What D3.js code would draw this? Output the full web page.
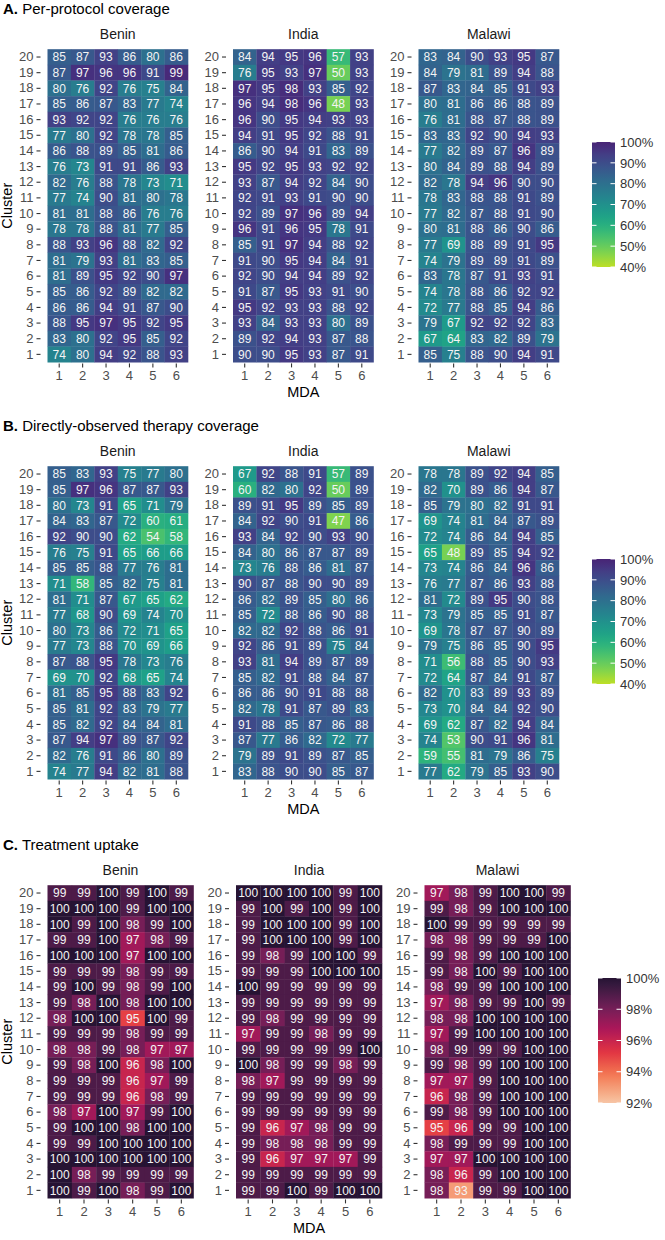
<!DOCTYPE html>
<html>
<head>
<meta charset="utf-8">
<script src="https://cdn.jsdelivr.net/npm/d3@7"></script>
<style>
  body { margin: 0; background: #fff; }
  text { font-family: "Liberation Sans", Arial, sans-serif; }
</style>
</head>
<body>
<script>
// categories
const countries = ["Benin", "India", "Malawi"];
const clusters = [20, 19, 18, 17, 16, 15, 14, 13, 12, 11, 10, 9, 8, 7, 6, 5, 4, 3, 2, 1];
const mdas = [1, 2, 3, 4, 5, 6];

// A. per-protocol coverage (rows = cluster 20 -> 1, cols = MDA 1..6)
const beninPP = [
  [85,87,93,86,80,86],[87,97,96,96,91,99],[80,76,92,76,75,84],[85,86,87,83,77,74],
  [93,92,92,76,76,76],[77,80,92,78,78,85],[86,88,89,85,81,86],[76,73,91,91,86,93],
  [82,76,88,78,73,71],[77,74,90,81,80,78],[81,81,88,86,76,76],[78,78,88,81,77,85],
  [88,93,96,88,82,92],[81,79,93,81,83,85],[81,89,95,92,90,97],[85,86,92,89,82,82],
  [86,86,94,91,87,90],[88,95,97,95,92,95],[83,80,92,95,85,92],[74,80,94,92,88,93]
];
const indiaPP = [
  [84,94,95,96,57,93],[76,95,93,97,50,93],[97,95,98,93,85,92],[96,94,98,96,48,93],
  [96,90,95,94,93,93],[94,91,95,92,88,91],[86,90,94,91,83,89],[95,92,95,93,92,92],
  [93,87,94,92,84,90],[92,91,93,91,90,90],[92,89,97,96,89,94],[96,91,96,95,78,91],
  [85,91,97,94,88,92],[91,90,95,94,84,91],[92,90,94,94,89,92],[91,87,95,93,91,90],
  [95,92,93,93,88,92],[93,84,93,93,80,89],[89,92,94,93,87,88],[90,90,95,93,87,91]
];
const malawiPP = [
  [83,84,90,93,95,87],[84,79,81,89,94,88],[87,83,84,85,91,93],[80,81,86,86,88,89],
  [76,81,88,87,88,89],[83,83,92,90,94,93],[77,82,89,87,96,89],[80,84,89,88,94,89],
  [82,78,94,96,90,90],[78,83,88,88,91,89],[77,82,87,88,91,90],[80,81,88,86,90,86],
  [77,69,88,89,91,95],[74,79,89,89,91,89],[83,78,87,91,93,91],[74,78,88,86,92,92],
  [72,77,88,85,94,86],[79,67,92,92,92,83],[67,64,83,82,89,79],[85,75,88,90,94,91]
];

// B. directly-observed therapy coverage
const beninDOT = [
  [85,83,93,75,77,80],[85,97,96,87,87,93],[80,73,91,65,71,79],[84,83,87,72,60,61],
  [92,90,90,62,54,58],[76,75,91,65,66,66],[85,85,88,77,76,81],[71,58,85,82,75,81],
  [81,71,87,67,65,62],[77,68,90,69,74,70],[80,73,86,72,71,65],[77,73,88,70,69,66],
  [87,88,95,78,73,76],[69,70,92,68,65,74],[81,85,95,88,83,92],[85,81,92,83,79,77],
  [85,82,92,84,84,81],[87,94,97,89,87,92],[82,76,91,86,80,89],[74,77,94,82,81,88]
];
const indiaDOT = [
  [67,92,88,91,57,89],[60,82,80,92,50,89],[89,91,95,89,85,89],[84,92,90,91,47,86],
  [93,84,92,90,93,90],[84,80,86,87,87,89],[73,76,88,86,81,87],[90,87,88,90,90,89],
  [86,82,89,85,80,86],[85,72,88,86,90,88],[82,82,92,88,86,91],[92,86,91,89,75,84],
  [93,81,94,89,87,89],[85,82,91,88,84,87],[86,86,90,91,88,88],[82,78,91,87,89,83],
  [91,88,85,87,86,88],[87,77,86,82,72,77],[79,89,91,89,87,85],[83,88,90,90,85,87]
];
const malawiDOT = [
  [78,78,89,92,94,85],[82,70,89,86,94,87],[85,79,80,82,91,91],[69,74,81,84,87,89],
  [72,74,86,84,94,85],[65,48,89,85,94,92],[73,74,86,84,96,86],[76,77,87,86,93,88],
  [81,72,89,95,90,88],[73,79,85,85,91,87],[69,78,87,87,90,89],[79,75,86,85,90,95],
  [71,56,88,85,90,93],[72,64,87,84,91,87],[82,70,83,89,93,89],[73,70,84,84,92,90],
  [69,62,87,82,94,84],[74,53,90,91,96,81],[59,55,81,79,86,75],[77,62,79,85,93,90]
];

// C. treatment uptake
const beninTU = [
  [99,99,100,99,100,99],[100,100,100,99,100,100],[100,99,100,98,99,100],[99,99,100,97,98,99],
  [100,100,100,97,100,100],[99,99,99,98,99,99],[99,100,99,98,99,100],[99,98,100,98,100,100],
  [98,100,100,95,100,99],[99,99,99,98,99,99],[98,98,99,98,97,97],[99,98,100,96,98,100],
  [99,99,99,96,97,99],[99,99,99,96,98,99],[98,97,100,97,99,100],[99,100,100,98,100,100],
  [99,99,100,100,100,100],[100,100,100,100,100,100],[100,98,99,99,99,99],[100,99,100,98,99,100]
];
const indiaTU = [
  [100,100,100,100,99,100],[99,100,99,100,99,100],[99,100,100,100,99,100],[99,100,100,100,99,100],
  [99,98,99,100,100,99],[99,99,99,100,100,100],[100,99,99,99,99,99],[99,99,99,99,99,99],
  [99,98,99,99,99,99],[97,99,99,98,99,99],[99,99,99,99,99,100],[100,98,99,99,98,99],
  [98,97,99,99,99,99],[99,99,99,99,99,99],[99,99,99,99,99,99],[99,96,97,98,99,99],
  [99,98,98,98,99,99],[99,96,97,97,97,99],[99,99,99,99,99,99],[99,99,100,99,100,100]
];
const malawiTU = [
  [97,98,99,100,100,99],[99,98,99,100,100,100],[100,99,99,99,99,99],[98,98,99,99,99,100],
  [99,98,99,100,100,100],[99,98,100,99,100,100],[98,99,99,100,100,100],[97,98,99,99,100,99],
  [98,98,100,100,100,100],[97,99,100,100,100,100],[98,99,99,99,100,100],[99,98,99,100,100,100],
  [97,97,99,100,100,100],[96,98,99,100,100,100],[99,98,99,100,100,100],[95,96,99,99,100,100],
  [98,99,99,99,100,100],[97,97,100,100,100,100],[98,96,99,100,100,100],[98,93,99,99,100,100]
];

// legend tick labels
const legendTicksAB = [100, 90, 80, 70, 60, 50, 40];
const legendTicksC = [100, 98, 96, 94, 92];

const rocket = d3.piecewise(d3.interpolateRgb, ["#03051a","#35193e","#701f57","#ad1759","#e13342","#f37651","#f6b48f","#faebdd"]);

const panels = [
  {letter: "A.", title: " Per-protocol coverage", data: [beninPP, indiaPP, malawiPP],
   dom: [40, 100], ticks: legendTicksAB, interp: d3.interpolateViridis, top: 0,
   facetLeft: [47.5, 233, 418.5], facetW: 140.5, legendX: 592},
  {letter: "B.", title: " Directly-observed therapy coverage", data: [beninDOT, indiaDOT, malawiDOT],
   dom: [40, 100], ticks: legendTicksAB, interp: d3.interpolateViridis, top: 417,
   facetLeft: [47.5, 233, 418.5], facetW: 140.5, legendX: 592},
  {letter: "C.", title: " Treatment uptake", data: [beninTU, indiaTU, malawiTU],
   dom: [92, 100], ticks: legendTicksC, interp: rocket, top: 836,
   facetLeft: [47.5, 236, 424.5], facetW: 146, legendX: 598}
];

const width = 665, height = 1240;
const rowTop = 49.2, rowH = 15.65;

let svg = d3.select("body").append("svg")
    .attr("width", width)
    .attr("height", height);

panels.forEach(function(p) {
  let g = svg.append("g").attr("transform", `translate(0,${p.top})`);
  let facetLeft = p.facetLeft, facetW = p.facetW;

  // value -> colour (reversed, begin .1 end .9)
  let tScale = d3.scaleLinear().domain([p.dom[1], p.dom[0]]).range([0.1, 0.9]);
  let color = v => p.interp(tScale(v));

  let y = d3.scaleBand().domain(clusters).range([rowTop, rowTop + rowH * clusters.length]);

  g.append("text")
      .attr("x", 3).attr("y", 13.5)
      .style("font-size", "15px")
      .call(t => {
        t.append("tspan").style("font-weight", "bold").text(p.letter);
        t.append("tspan").text(p.title);
      });

  countries.forEach(function(c, ci) {
    let x = d3.scaleBand().domain(mdas).range([facetLeft[ci], facetLeft[ci] + facetW]);
    let rows = p.data[ci];

    let cells = [];
    rows.forEach((r, ri) => r.forEach((v, mi) => cells.push({cl: clusters[ri], mda: mdas[mi], v: v})));

    g.append("text")
        .attr("x", facetLeft[ci] + facetW / 2).attr("y", 39)
        .attr("text-anchor", "middle")
        .style("font-size", "14px").style("fill", "#1a1a1a")
        .text(c);

    let cg = g.append("g");
    cg.selectAll("rect").data(cells).enter().append("rect")
        .attr("x", d => x(d.mda))
        .attr("y", d => y(d.cl))
        .attr("width", x.bandwidth() + 0.3)
        .attr("height", y.bandwidth() + 0.3)
        .attr("fill", d => color(d.v));

    cg.selectAll("text").data(cells).enter().append("text")
        .attr("x", d => x(d.mda) + x.bandwidth() / 2)
        .attr("y", d => y(d.cl) + y.bandwidth() / 2)
        .attr("dy", "0.36em")
        .attr("text-anchor", "middle")
        .style("font-size", "12px").style("fill", "#f4f4f4")
        .text(d => d.v);

    let ya = g.append("g")
        .attr("transform", `translate(${facetLeft[ci] - 7},0)`)
        .call(d3.axisLeft(y).tickSize(4).tickPadding(3));
    let xa = g.append("g")
        .attr("transform", `translate(0,${rowTop + rowH * 20 + 1.2})`)
        .call(d3.axisBottom(x).tickSize(4).tickPadding(3.5));
    [ya, xa].forEach(a => {
      a.select(".domain").remove();
      a.selectAll(".tick line").attr("stroke", "#333").attr("stroke-width", 1.1);
      a.selectAll(".tick text").style("font-size", "13px").style("fill", "#4d4d4d")
          .style("font-family", "'Liberation Sans', Arial, sans-serif");
    });
  });

  // axis titles
  g.append("text")
      .attr("transform", `translate(12,${rowTop + rowH * 10}) rotate(-90)`)
      .attr("text-anchor", "middle")
      .style("font-size", "14.5px")
      .text("Cluster");
  g.append("text")
      .attr("x", facetLeft[1] + facetW / 2).attr("y", 397)
      .attr("text-anchor", "middle")
      .style("font-size", "14.5px")
      .text("MDA");

  // colour bar legend
  let lx = p.legendX, lw = 23, ly0 = 142, lh = 125;
  let ly = d3.scaleLinear().domain(p.dom).range([ly0 + lh, ly0]);
  let gradId = "grad" + p.letter[0];
  let grad = svg.append("defs").append("linearGradient")
      .attr("id", gradId).attr("x1", 0).attr("y1", 1).attr("x2", 0).attr("y2", 0);
  d3.range(0, 1.0001, 0.05).forEach(f => {
    grad.append("stop").attr("offset", f)
        .attr("stop-color", color(p.dom[0] + f * (p.dom[1] - p.dom[0])));
  });
  let lg = g.append("g");
  lg.append("rect")
      .attr("x", lx).attr("y", ly0).attr("width", lw).attr("height", lh)
      .attr("fill", `url(#${gradId})`);
  p.ticks.forEach(t => {
    lg.append("line").attr("x1", lx).attr("x2", lx + 4.5)
        .attr("y1", ly(t)).attr("y2", ly(t)).attr("stroke", "#fff");
    lg.append("line").attr("x1", lx + lw - 4.5).attr("x2", lx + lw)
        .attr("y1", ly(t)).attr("y2", ly(t)).attr("stroke", "#fff");
    lg.append("text").attr("x", lx + lw + 5).attr("y", ly(t)).attr("dy", "0.36em")
        .style("font-size", "13px").style("fill", "#333")
        .text(t + "%");
  });
});
</script>
</body>
</html>
